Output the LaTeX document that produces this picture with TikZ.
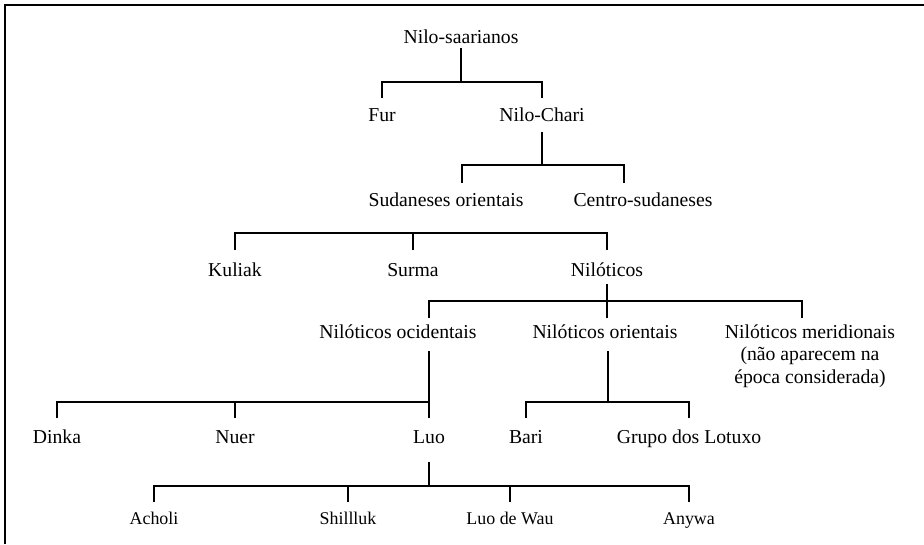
\documentclass[tikz,border=0pt]{standalone}
\usepackage{fontspec}
\setmainfont{Liberation Serif}
\usetikzlibrary{calc}

\tikzset{
    lang/.style={font=\fontsize{19.7}{22.5}\selectfont, inner sep=0pt, anchor=base},
    sublang/.style={lang, font=\fontsize{17.9}{20}\selectfont},
    link/.style={line width=1.1pt},
    frame/.style={line width=1.5pt}
}

\begin{document}
\begin{tikzpicture}[x=1pt,y=-1pt]
    \useasboundingbox (0,0) rectangle (924,544);
    \draw [frame] (5,544) -- (5,5) -- (924,5);

    %Language families, placed at their baselines
    \node [lang] (root) at (461,43) {Nilo-saarianos};
    \node [lang] (fur) at (382,121) {Fur};
    \node [lang] (nchari) at (542,121) {Nilo-Chari};
    \node [lang] (sor) at (446,206) {Sudaneses orientais};
    \node [lang] (csud) at (643,206) {Centro-sudaneses};
    \node [lang] (kuliak) at (235,276) {Kuliak};
    \node [lang] (surma) at (413,276) {Surma};
    \node [lang] (nilot) at (607,276) {Nilóticos};
    \node [lang] (nocid) at (398,338) {Nilóticos ocidentais};
    \node [lang] (nori) at (605,338) {Nilóticos orientais};
    %base of a multi-line node is its last line
    \node [lang, align=center] (nmer) at (810,383) {Nilóticos meridionais\\(não aparecem na\\época considerada)};
    \node [lang] (dinka) at (57,443) {Dinka};
    \node [lang] (nuer) at (235,443) {Nuer};
    \node [lang] (luo) at (429,443) {Luo};
    \node [lang] (bari) at (526,443) {Bari};
    \node [lang] (lotuxo) at (689,443) {Grupo dos Lotuxo};
    \node [sublang] (acholi) at (154,524) {Acholi};
    \node [sublang] (shill) at (348,524) {Shillluk};
    \node [sublang] (luowau) at (510,524) {Luo de Wau};
    \node [sublang] (anywa) at (689,524) {Anywa};

    %Nilo-saarianos
    \draw [link] (root.base) ++(0,5) -- ++(0,34) coordinate (j1);
    \draw [link] ($(fur.base)+(0,-23)$) |- (j1);
    \draw [link] ($(nchari.base)+(0,-23)$) |- (j1);

    %Nilo-Chari
    \draw [link] (nchari.base) ++(0,11) -- ++(0,33) coordinate (j2);
    \draw [link] ($(sor.base)+(16,-23)$) |- (j2);
    \draw [link] ($(csud.base)+(-19,-23)$) |- (j2);

    %Kuliak, Surma, Niloticos
    \draw [link] ($(kuliak.base)+(0,-26)$) |- ($(nilot.base)+(0,-43)$) -- ++(0,17);
    \draw [link] ($(surma.base)+(0,-26)$) -- ++(0,-17);

    %Niloticos
    \draw [link] (nilot.base) ++(0,8) -- ++(0,17) coordinate (j4) -- ++(0,17);
    \draw [link] ($(nocid.base)+(31,-20)$) |- (j4);
    \draw [link] ($(nmer.base)+(-8,-65)$) |- (j4);

    %Niloticos ocidentais
    \draw [link] ($(nocid.base)+(31,13)$) -- ++(0,51) coordinate (j5) -- ($(luo.base)+(0,-25)$);
    \draw [link] ($(dinka.base)+(0,-25)$) |- (j5);
    \draw [link] ($(nuer.base)+(0,-25)$) |- (j5);

    %Niloticos orientais
    \draw [link] ($(nori.base)+(3,13)$) -- ++(0,51) coordinate (j6);
    \draw [link] ($(bari.base)+(0,-25)$) |- (j6);
    \draw [link] ($(lotuxo.base)+(0,-25)$) |- (j6);

    %Luo
    \draw [link] (luo.base) ++(0,19) -- ++(0,24) coordinate (j7);
    \draw [link] ($(acholi.base)+(0,-22)$) |- (j7);
    \draw [link] ($(shill.base)+(0,-22)$) |- (j7);
    \draw [link] ($(luowau.base)+(0,-22)$) |- (j7);
    \draw [link] ($(anywa.base)+(0,-22)$) |- (j7);
\end{tikzpicture}
\end{document}
